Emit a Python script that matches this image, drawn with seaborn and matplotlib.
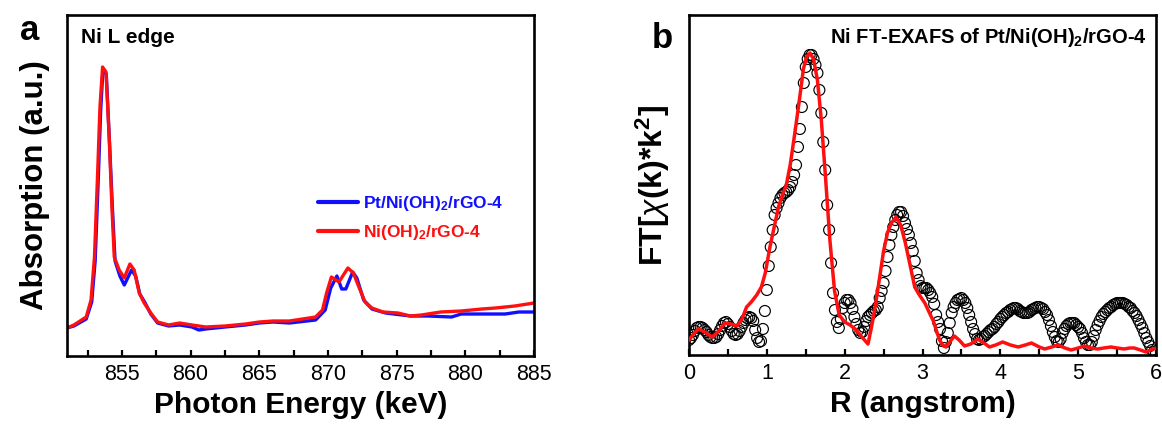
import numpy as np
import pandas as pd
import matplotlib
matplotlib.use("Agg")
import matplotlib.pyplot as plt
from matplotlib import font_manager
import seaborn as sns

# ---------------- data: panel a (Ni L edge XAS) ----------------
energy_pt = [851.0, 851.5, 852.4, 852.8, 853.05, 853.28, 853.45, 853.62, 853.86, 854.1,
             854.3, 854.5, 854.85, 855.17, 855.7, 856.0, 856.3, 856.65, 857.1, 857.6,
             858.4, 859.2, 860.1, 860.6, 861.1, 862.5, 864.0, 865.0, 866.0, 867.2,
             869.1, 869.8, 870.2, 870.65, 871.0, 871.3, 871.8, 872.1, 872.6, 873.2,
             874.2, 876.0, 877.3, 879.0, 879.7, 881.7, 882.9, 883.9, 885.0]
absorb_pt = [28, 30, 37, 54, 95, 178, 245, 287, 282, 212,
             150, 95, 80, 71, 86, 80, 62, 54, 42, 33,
             30, 31, 29, 26, 27, 29, 31, 33, 34, 33,
             36, 46, 68, 80, 67, 67, 84, 78, 56, 47,
             43, 40, 40, 39, 42, 42, 42, 44, 44]

energy_ni = [851.0, 851.5, 852.4, 852.75, 853.0, 853.23, 853.4, 853.59, 853.84, 854.08,
             854.27, 854.44, 854.8, 855.17, 855.58, 855.89, 856.26, 856.62, 857.1, 857.6,
             858.4, 859.2, 860.1, 861.1, 862.5, 864.0, 865.0, 866.0, 867.2, 869.1,
             869.6, 869.9, 870.25, 870.8, 871.45, 871.85, 872.25, 872.7, 873.2, 874.0,
             875.1, 876.0, 876.8, 878.2, 879.7, 881.2, 882.2, 883.6, 885.0]
absorb_ni = [28, 31, 39, 56, 99, 183, 249, 289, 284, 216,
             149, 99, 86, 78, 92, 86, 63, 53, 43, 34,
             31, 33, 31, 29, 30, 32, 34, 35, 35, 39,
             46, 63, 79, 74, 88, 83, 69, 54, 48, 44,
             43, 40, 41, 44, 45, 47, 48, 50, 53]

label_pt = "Pt/Ni(OH)$_\\mathbf{2}$/rGO-4"
label_ni = "Ni(OH)$_\\mathbf{2}$/rGO-4"
xticks_a = [855, 860, 865, 870, 875, 880, 885]

# ---------------- data: panel b (FT-EXAFS) ----------------
r_step = 0.025
ft_data = [15, 17, 20, 24, 27, 28, 28, 27, 25, 23,
           20, 18, 17, 17, 18, 21, 25, 29, 32, 33,
           31, 28, 24, 21, 20, 21, 24, 28, 32, 35,
           37, 38, 37, 34, 25, 17, 13, 14, 26, 44,
           65, 89, 108, 125, 140, 147, 152, 157, 160, 162,
           163, 165, 168, 173, 180, 190, 208, 226, 248, 272,
           288, 296, 300, 300, 296, 290, 282, 265, 242, 213,
           185, 150, 125, 92, 62, 45, 33, 27, 36, 47,
           52, 55, 55, 52, 46, 38, 31, 25, 22, 23,
           28, 34, 38, 40, 42, 44, 45, 48, 57, 64,
           72, 84, 98, 110, 120, 128, 135, 140, 143, 143,
           139, 132, 126, 120, 112, 104, 94, 82, 75, 69,
           67, 67, 67, 65, 62, 58, 51, 40, 33, 26,
           14, 7, 13, 22, 32, 42, 48, 52, 55, 56,
           57, 55, 52, 47, 40, 33, 26, 21, 16, 15,
           16, 18, 19, 21, 23, 25, 26, 28, 31, 33,
           36, 38, 40, 42, 43, 45, 46, 47, 47, 46,
           44, 43, 42, 42, 42, 43, 45, 46, 47, 48,
           48, 47, 46, 43, 40, 35, 29, 23, 18, 14,
           13, 16, 22, 26, 29, 31, 32, 32, 32, 30,
           28, 26, 22, 17, 13, 10, 10, 13, 19, 25,
           30, 34, 38, 41, 43, 45, 47, 48, 50, 51,
           52, 52, 52, 52, 51, 50, 48, 47, 44, 42,
           39, 35, 31, 27, 22, 17, 13, 9, 5, 3,
           2]
r_data = np.round(np.arange(len(ft_data)) * r_step, 3)

r_fit = [0.0, 0.06, 0.12, 0.2, 0.3, 0.38, 0.46, 0.54, 0.62, 0.68,
         0.74, 0.8, 0.87, 0.93, 0.98, 1.04, 1.1, 1.15, 1.2, 1.25,
         1.3, 1.36, 1.42, 1.47, 1.51, 1.555, 1.6, 1.65, 1.7, 1.75,
         1.81, 1.87, 1.93, 2.0, 2.07, 2.15, 2.22, 2.3, 2.35, 2.4,
         2.45, 2.5, 2.55, 2.6, 2.66, 2.72, 2.78, 2.84, 2.9, 2.96,
         3.03, 3.09, 3.14, 3.18, 3.22, 3.26, 3.3, 3.36, 3.41, 3.47,
         3.54, 3.62, 3.71, 3.79, 3.86, 3.94, 4.03, 4.13, 4.23, 4.32,
         4.4, 4.5, 4.57, 4.66, 4.74, 4.83, 4.91, 5.0, 5.08, 5.16,
         5.25, 5.33, 5.42, 5.5, 5.59, 5.66, 5.72, 5.8, 5.87, 5.93,
         6.0]
ft_fit = [15, 21, 26, 23, 18, 24, 32, 31, 29, 36,
          48, 53, 60, 68, 82, 108, 130, 148, 160, 170,
          190, 222, 256, 286, 298, 302, 296, 275, 235, 182,
          115, 64, 40, 33, 30, 25, 18, 11, 30, 52,
          78, 104, 122, 132, 138, 130, 112, 90, 68, 60,
          52, 42, 34, 24, 15, 10, 8, 14, 19, 15,
          9, 11, 16, 12, 8, 10, 13, 10, 8, 10,
          12, 8, 6, 8, 10, 7, 5, 7, 9, 7,
          6, 7, 8, 7, 6, 7, 7, 5, 3, 5,
          7]
xticks_b = [0, 1, 2, 3, 4, 5, 6]

# ---------------- style ----------------
sns.set_theme(style="ticks")
names = {f.name for f in font_manager.fontManager.ttflist}
base_font = "Liberation Sans" if "Liberation Sans" in names else "DejaVu Sans"
plt.rcParams["font.family"] = [base_font, "DejaVu Sans"]
plt.rcParams["mathtext.fontset"] = "custom"
plt.rcParams["mathtext.rm"] = base_font
plt.rcParams["mathtext.bf"] = base_font + ":bold"
plt.rcParams["mathtext.it"] = base_font + ":italic"
plt.rcParams["mathtext.sf"] = base_font
for key in ["text.color", "axes.labelcolor", "xtick.color", "ytick.color",
            "xtick.labelcolor", "ytick.labelcolor", "axes.edgecolor"]:
    plt.rcParams[key] = "black"

BLUE = "#1010ff"
RED = "#ff1010"

fig = plt.figure(figsize=(11.62, 4.33), dpi=100)
ax_a = fig.add_axes([67 / 1162, 1 - 356 / 433, (534 - 67) / 1162, (356 - 15) / 433])
ax_b = fig.add_axes([689 / 1162, 1 - 355 / 433, (1156 - 689) / 1162, (355 - 15) / 433])

def style_axes(ax):
    for s in ax.spines.values():
        s.set_linewidth(1.9)
        s.set_color("black")
        s.set_visible(True)
    ax.tick_params(axis="x", which="both", direction="in", length=4.5, width=1.6,
                   labelsize=15.5, pad=6, colors="black", labelcolor="black")
    ax.tick_params(axis="y", which="both", left=False, labelleft=False)
    ax.set_facecolor("white")

# ---- panel a ----
df_pt = pd.DataFrame({"E": energy_pt, "A": absorb_pt})
df_ni = pd.DataFrame({"E": energy_ni, "A": absorb_ni})
sns.lineplot(data=df_pt, x="E", y="A", ax=ax_a, color=BLUE, lw=2.4, label=label_pt,
             sort=False, estimator=None)
sns.lineplot(data=df_ni, x="E", y="A", ax=ax_a, color=RED, lw=2.4, label=label_ni,
             sort=False, estimator=None)
ax_a.set_xlim(851, 885)
ax_a.set_ylim(0, 341)
ax_a.set_xticks(xticks_a)
ax_a.set_xticks(list(np.array(xticks_a[:-1]) - 2.5) + [882.5], minor=True)
style_axes(ax_a)
ax_a.set_xlabel("Photon Energy (keV)", fontsize=21.5, fontweight="bold", labelpad=4)
ax_a.set_ylabel("Absorption (a.u.)", fontsize=22.5, fontweight="bold", labelpad=12)
ax_a.text(0.03, 0.935, "Ni L edge", transform=ax_a.transAxes, fontsize=15,
          fontweight="bold", ha="left", va="center")
leg = ax_a.legend(loc="center left", bbox_to_anchor=(0.505, 0.405), frameon=False,
                  handlelength=2.3, handletextpad=0.25, labelspacing=0.55,
                  prop={"weight": "bold", "size": 12.5})
for txt, col in zip(leg.get_texts(), [BLUE, RED]):
    txt.set_color(col)
for line in leg.get_lines():
    line.set_linewidth(3.0)

# ---- panel b ----
df_data = pd.DataFrame({"R": r_data, "FT": ft_data})
df_fit = pd.DataFrame({"R": r_fit, "FT": ft_fit})
sns.scatterplot(data=df_data, x="R", y="FT", ax=ax_b, marker="o", s=62,
                facecolors="none", edgecolor="black", linewidth=0.85, zorder=2)
sns.lineplot(data=df_fit, x="R", y="FT", ax=ax_b, color=RED, lw=2.5, zorder=3,
             sort=False, estimator=None)
ax_b.set_xlim(0, 6)
ax_b.set_ylim(0, 340)
ax_b.set_xticks(xticks_b)
ax_b.set_xticks(np.array(xticks_b[:-1]) + 0.5, minor=True)
style_axes(ax_b)
ax_b.set_xlabel("R (angstrom)", fontsize=21.5, fontweight="bold", labelpad=4)
ax_b.set_ylabel("FT[$\\chi$(k)*k$^\\mathbf{2}$]", fontsize=23, fontweight="bold", labelpad=12)
ax_b.text(0.98, 0.935, "Ni FT-EXAFS of Pt/Ni(OH)$_\\mathbf{2}$/rGO-4", transform=ax_b.transAxes,
          fontsize=14.5, fontweight="bold", ha="right", va="center")

fig.text(30 / 1162, 1 - 30 / 433, "a", fontsize=25, fontweight="bold", ha="center", va="center")
fig.text(662 / 1162, 1 - 38 / 433, "b", fontsize=25, fontweight="bold", ha="center", va="center")

fig.savefig("out.png", dpi=100, facecolor="white")
